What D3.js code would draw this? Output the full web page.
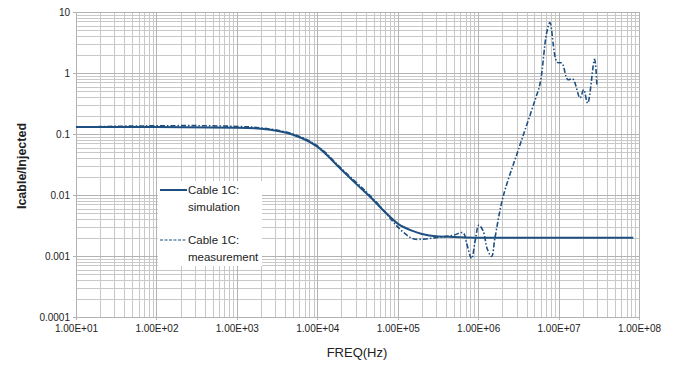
<!DOCTYPE html>
<html>
<head>
<meta charset="utf-8">
<script src="https://cdn.jsdelivr.net/npm/d3@7"></script>
<style>
  body { margin: 0; background: #fff; }
  text { font-family: "Liberation Sans", Arial, sans-serif; fill: #222; }
</style>
</head>
<body>
<div id="chart"></div>
<script>
// simulation curve: [freq Hz, Icable/Injected]
const simFreq = [10, 100, 1000, 2000, 5000, 1e4, 2e4, 3e4, 5e4, 7e4, 1e5, 1.5e5, 2e5, 3e5, 5e5, 1e6, 1e7, 8.5e7]
const simVal  = [0.13, 0.13, 0.127, 0.122, 0.097, 0.062, 0.026, 0.0155, 0.0082, 0.0052, 0.0034, 0.0026, 0.0023, 0.0021, 0.00205, 0.002, 0.002, 0.002]

// measurement curve
const measFreq = [10, 20, 50, 100, 300, 1000, 2000, 5000, 1e4, 2e4, 4e4, 6e4, 8e4, 1e5, 1.3e5, 1.6e5, 2.2e5, 3e5, 4e5, 5e5, 6.5e5,
  7.2e5, 8.3e5, 9.2e5, 1.02e6, 1.15e6, 1.3e6, 1.47e6, 1.62e6, 2.04e6, 3.16e6, 5.1e6, 5.9e6, 7.1e6, 7.8e6, 9.6e6, 1.1e7,
  1.3e7, 1.5e7, 1.85e7, 2.05e7, 2.3e7, 2.8e7, 3.0e7]
const measVal = [0.13, 0.132, 0.135, 0.136, 0.137, 0.133, 0.126, 0.1, 0.064, 0.027, 0.0115, 0.0066, 0.0042, 0.003, 0.0022, 0.0019, 0.0019, 0.002, 0.0021, 0.0022, 0.0024,
  0.0016, 0.00091, 0.0018, 0.0032, 0.0026, 0.0013, 0.00098, 0.002, 0.0093, 0.055, 0.36, 0.68, 4.5, 6.7, 1.5, 1.45,
  0.78, 0.8, 0.39, 0.53, 0.32, 1.67, 0.62]

const xTicks = [1e1, 1e2, 1e3, 1e4, 1e5, 1e6, 1e7, 1e8]
const yTicks = [1e-4, 1e-3, 1e-2, 1e-1, 1, 10]
const yTickLabels = ["0.0001", "0.001", "0.01", "0.1", "1", "10"]
const seriesNames = [["Cable 1C:", "simulation"], ["Cable 1C:", "measurement"]]

const w = 674
const h = 367
const plotL = 76, plotR = 639, plotT = 12, plotB = 317
const lineColor = "#1d4f80"

const svg = d3.select("#chart").append("svg")
  .attr("width", w)
  .attr("height", h)

svg.append("rect").attr("width", w).attr("height", h).attr("fill", "#fff")

const xScale = d3.scaleLog().domain([1e1, 1e8]).range([plotL, plotR])
const yScale = d3.scaleLog().domain([1e-4, 10]).range([plotB, plotT])

// minor values 2..9 per decade
function minorVals(lo, hi) {
  const out = []
  for (let e = Math.log10(lo); e < Math.log10(hi); e++) {
    for (let k = 2; k <= 9; k++) out.push(k * Math.pow(10, e))
  }
  return out
}

// grid
const grid = svg.append("g")
grid.selectAll(".vmin").data(minorVals(1e1, 1e8)).enter().append("line")
  .attr("x1", d => Math.round(xScale(d)) + 0.5).attr("x2", d => Math.round(xScale(d)) + 0.5)
  .attr("y1", plotT).attr("y2", plotB)
  .attr("stroke", "#c8c8c8")
grid.selectAll(".hmin").data(minorVals(1e-4, 10)).enter().append("line")
  .attr("y1", d => Math.round(yScale(d)) + 0.5).attr("y2", d => Math.round(yScale(d)) + 0.5)
  .attr("x1", plotL).attr("x2", plotR)
  .attr("stroke", "#c8c8c8")
grid.selectAll(".vmaj").data(xTicks).enter().append("line")
  .attr("x1", d => Math.round(xScale(d)) + 0.5).attr("x2", d => Math.round(xScale(d)) + 0.5)
  .attr("y1", plotT).attr("y2", plotB + 3)
  .attr("stroke", "#b3b3b3")
grid.selectAll(".hmaj").data(yTicks).enter().append("line")
  .attr("y1", d => Math.round(yScale(d)) + 0.5).attr("y2", d => Math.round(yScale(d)) + 0.5)
  .attr("x1", plotL - 3).attr("x2", plotR)
  .attr("stroke", "#b3b3b3")

// axes (labels only, lines drawn by the grid)
const xAxis = d3.axisBottom(xScale)
  .tickValues(xTicks)
  .tickSize(0)
  .tickPadding(8)
  .tickFormat(d => "1.00E+" + String(Math.round(Math.log10(d))).padStart(2, "0"))
const gx = svg.append("g")
  .attr("transform", `translate(0, ${plotB})`)
  .call(xAxis)
gx.select(".domain").remove()
gx.selectAll("text").style("font-size", "10px").attr("fill", "#222")

const yAxis = d3.axisLeft(yScale)
  .tickValues(yTicks)
  .tickSize(0)
  .tickPadding(5)
  .tickFormat((d, i) => yTickLabels[i])
const gy = svg.append("g")
  .attr("transform", `translate(${plotL - 1}, 0)`)
  .call(yAxis)
gy.select(".domain").remove()
gy.selectAll("text").style("font-size", "10px").attr("fill", "#222")

// axis titles
svg.append("text")
  .attr("x", 357)
  .attr("y", 357)
  .style("text-anchor", "middle")
  .style("font-size", "13px")
  .text("FREQ(Hz)")

svg.append("text")
  .attr("transform", "rotate(-90)")
  .attr("x", -166)
  .attr("y", 26)
  .style("text-anchor", "middle")
  .style("font-size", "12.5px")
  .style("font-weight", "bold")
  .text("Icable/Injected")

// lines
const line = d3.line()
  .x(d => xScale(d[0]))
  .y(d => yScale(d[1]))

const simData = simFreq.map((f, i) => [f, simVal[i]])
const measData = measFreq.map((f, i) => [f, measVal[i]])

svg.append("path")
  .datum(measData)
  .attr("d", line.curve(d3.curveCatmullRom.alpha(0.5)))
  .attr("fill", "none")
  .attr("stroke", lineColor)
  .attr("stroke-width", 1.6)
  .attr("stroke-dasharray", "5,2,1.5,2")

svg.append("path")
  .datum(simData)
  .attr("d", line.curve(d3.curveMonotoneX))
  .attr("fill", "none")
  .attr("stroke", lineColor)
  .attr("stroke-width", 2)

// legend
const legend = svg.append("g")
legend.append("rect")
  .attr("x", 158).attr("y", 181).attr("width", 104).attr("height", 85)
  .attr("fill", "#fff")

const legendY = [190, 240]
seriesNames.forEach((lines, i) => {
  legend.append("line")
    .attr("x1", 160).attr("x2", 187)
    .attr("y1", legendY[i]).attr("y2", legendY[i])
    .attr("stroke", lineColor)
    .attr("stroke-width", i == 0 ? 2 : 1)
    .attr("stroke-dasharray", i == 0 ? null : "3,1.5")
  lines.forEach((t, j) => {
    legend.append("text")
      .attr("x", 188)
      .attr("y", legendY[i] + 4 + j * 16.5)
      .style("font-size", "11.5px")
      .text(t)
  })
})
</script>
</body>
</html>
